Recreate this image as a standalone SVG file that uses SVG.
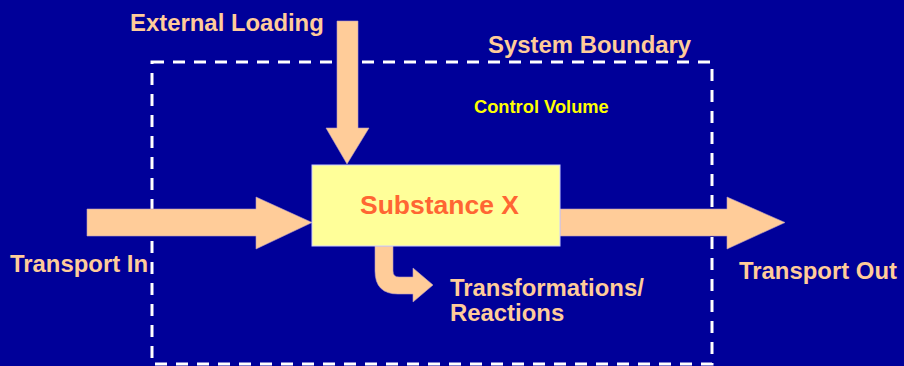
<svg xmlns="http://www.w3.org/2000/svg" width="904" height="366" viewBox="0 0 904 366">
<style>
.lbl{font-family:"Liberation Sans",Arial,sans-serif;font-weight:bold;fill:#FFCC99;font-size:23.9px}
.arr{fill:#FFCC99;stroke:#B8A0C0;stroke-width:0.6}
</style>
<rect x="0" y="0" width="904" height="366" fill="#000099"/>
<g id="system-boundary">
<rect x="152" y="62" width="560" height="302" fill="none" stroke="#FFFFFF" stroke-width="3" stroke-dasharray="12 9"/>
<text class="lbl" x="488" y="52.5">System Boundary</text>
<text x="474" y="113" font-family="Liberation Sans,Arial,sans-serif" font-weight="bold" font-size="18.3" fill="#FFFF00">Control Volume</text>
</g>
<g id="connectors">
<polygon class="arr" points="337,21 358,21 358,128 369,128 347,164 326,128 337,128"/>
<polygon class="arr" points="87,209 256,209 256,197 312,222.5 256,249 256,236 87,236"/>
<polygon class="arr" points="560,209 727,209 727,197 785,222.5 727,249 727,236 560,236"/>
<path class="arr" d="M375,246 L393,246 L393,271 Q393,277 399,277 L413,277 L413,268 L433,285 L413,302 L413,294 L398,294 Q375,294 375,271 Z"/>
</g>
<g id="substance-x">
<rect x="312" y="165" width="248" height="81" fill="#FFFF99" stroke="#CCCCFF" stroke-width="1"/>
<text x="439.5" y="213.5" text-anchor="middle" font-family="Liberation Sans,Arial,sans-serif" font-weight="bold" font-size="26.5" fill="#FF6633">Substance X</text>
</g>
<g id="external-loading"><text class="lbl" x="130" y="31">External Loading</text></g>
<g id="transport-in"><text class="lbl" x="10" y="271.5">Transport In</text></g>
<g id="transport-out"><text class="lbl" x="739" y="279">Transport Out</text></g>
<g id="transformations"><text class="lbl" x="450" y="296">Transformations/</text><text class="lbl" x="450" y="321">Reactions</text></g>
</svg>
